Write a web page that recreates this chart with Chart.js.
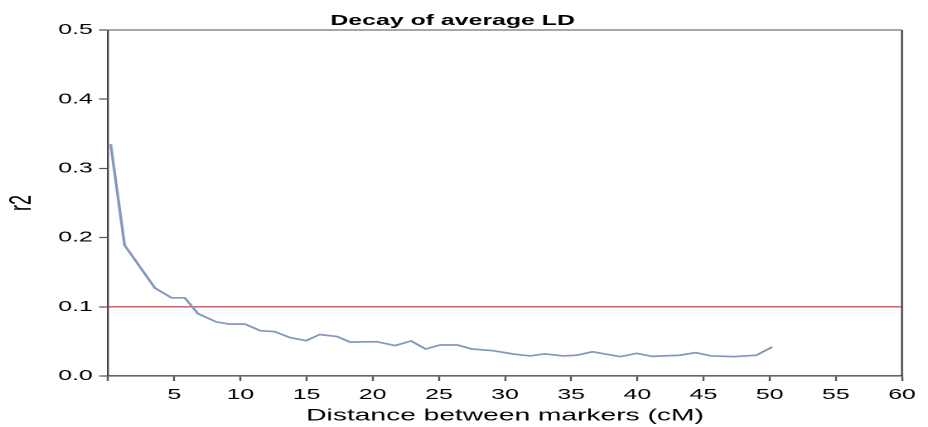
<!DOCTYPE html>
<html>
<head>
<meta charset="utf-8">
<title>Decay of average LD</title>
<script src="https://cdn.jsdelivr.net/npm/chart.js@4.4.1/dist/chart.umd.min.js"></script>
<style>
  html, body { margin: 0; padding: 0; background: #ffffff; overflow: hidden; }
  /* The figure is laid out on a narrow canvas and widened horizontally,
     which gives the broad, wide-set lettering of the printed plot. */
  #wrap { width: 560px; height: 427px; transform: scaleX(1.657142857); transform-origin: 0 0; filter: blur(0.45px); }
  canvas { display: block; }
</style>
</head>
<body>
<div id="wrap"><canvas id="ld" width="560" height="427"></canvas></div>
<script>
// Average r2 between marker pairs, by inter-marker distance (cM)
const distanceCM = [0.2, 1.25, 2.4, 3.55, 4.8, 5.8, 6.8, 8.2, 9.2, 10.35,
  11.5, 12.6, 13.75, 14.97, 16.0, 17.3, 18.3, 20.3, 21.7, 22.9,
  24.0, 25.1, 26.4, 27.5, 29.1, 30.6, 31.9, 33.0, 34.4, 35.4,
  36.6, 38.7, 39.96, 41.1, 43.2, 44.4, 45.6, 47.3, 49.0, 50.2];
const meanR2 = [0.335, 0.189, 0.158, 0.127, 0.113, 0.113, 0.090, 0.078, 0.075, 0.075,
  0.0655, 0.064, 0.0555, 0.051, 0.060, 0.057, 0.049, 0.0496, 0.044, 0.0506,
  0.039, 0.0448, 0.0448, 0.039, 0.0366, 0.0318, 0.029, 0.032, 0.029, 0.030,
  0.035, 0.028, 0.0327, 0.0284, 0.030, 0.0337, 0.029, 0.028, 0.030, 0.042];

// Reference level of r2 drawn across the whole distance range
const thresholdR2 = 0.1;
const thresholdSpan = [0, 60];

// Axis ranges and tick steps
const xRange = [0, 60];
const xStep = 5;
const yRange = [0, 0.5];
const yStep = 0.1;

const chartTitle = 'Decay of average LD';
const xTitle = 'Distance between markers (cM)';
const yTitle = 'r2';

const FONT = '"Liberation Sans", Arial, Helvetica, sans-serif';

const decayPoints = distanceCM.map((d, i) => ({ x: d, y: meanR2[i] }));
const thresholdPoints = thresholdSpan.map(d => ({ x: d, y: thresholdR2 }));

// Closes the plot frame (top and right edges) and writes the heading
const framePlugin = {
  id: 'frame',
  afterDraw(chart) {
    const { ctx, chartArea: a } = chart;
    ctx.save();
    ctx.strokeStyle = '#8a8a8a';
    ctx.lineWidth = 1.6;
    ctx.beginPath();
    ctx.moveTo(a.left, a.top);
    ctx.lineTo(a.right, a.top);
    ctx.stroke();
    ctx.strokeStyle = '#444444';
    ctx.lineWidth = 1.2;
    ctx.beginPath();
    ctx.moveTo(a.right, a.top);
    ctx.lineTo(a.right, a.bottom);
    ctx.stroke();
    ctx.fillStyle = '#000000';
    ctx.font = 'bold 15px ' + FONT;
    ctx.textAlign = 'center';
    ctx.textBaseline = 'alphabetic';
    ctx.fillText(chartTitle, a.left + (a.right - a.left) * 0.434, 25);
    ctx.restore();
  }
};

new Chart(document.getElementById('ld'), {
  type: 'line',
  data: {
    datasets: [
      {
        label: 'threshold',
        data: thresholdPoints,
        borderColor: '#c4555f',
        borderWidth: 1.4,
        pointRadius: 0,
        tension: 0,
        order: 2
      },
      {
        label: 'mean r2',
        data: decayPoints,
        borderColor: '#8597bd',
        borderWidth: 1.7,
        pointRadius: 0,
        tension: 0,
        order: 1
      }
    ]
  },
  options: {
    responsive: false,
    maintainAspectRatio: false,
    devicePixelRatio: 2,
    animation: false,
    layout: { padding: { top: 30, right: 15.7, bottom: 0, left: 0 } },
    plugins: {
      legend: { display: false },
      tooltip: { enabled: false },
      title: { display: false }
    },
    scales: {
      x: {
        type: 'linear',
        min: xRange[0],
        max: xRange[1],
        afterFit(scale) { scale.height = 51; },
        grid: {
          drawOnChartArea: false,
          drawTicks: true,
          tickLength: 5,
          tickWidth: 1.2,
          tickColor: '#555555'
        },
        border: { color: '#666666', width: 1.6 },
        ticks: {
          stepSize: xStep,
          autoSkip: false,
          maxRotation: 0,
          padding: 5,
          color: '#000000',
          font: { family: FONT, size: 15 },
          callback: v => (v === 0 ? '' : String(v))
        },
        title: {
          display: true,
          text: xTitle,
          color: '#000000',
          font: { family: FONT, size: 17 },
          padding: { top: 0, bottom: 1 }
        }
      },
      y: {
        type: 'linear',
        min: yRange[0],
        max: yRange[1],
        afterFit(scale) { scale.width = 65.2; },
        grid: {
          drawOnChartArea: false,
          drawTicks: true,
          tickLength: 5.4,
          tickWidth: 1.2,
          tickColor: '#555555'
        },
        border: { color: '#444444', width: 1.2 },
        ticks: {
          stepSize: yStep,
          padding: 3.8,
          color: '#000000',
          font: { family: FONT, size: 15 },
          callback: v => Number(v).toFixed(1)
        },
        title: {
          display: true,
          text: yTitle,
          color: '#000000',
          font: { family: FONT, size: 18 },
          padding: { top: 2.5, bottom: 0 }
        }
      }
    }
  },
  plugins: [framePlugin]
});
</script>
</body>
</html>
